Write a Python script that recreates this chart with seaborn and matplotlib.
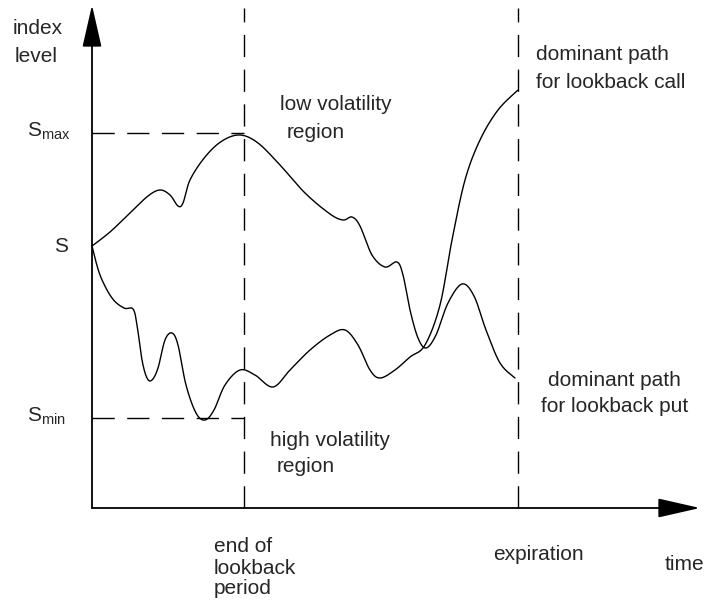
import numpy as np
import pandas as pd
import seaborn as sns
import matplotlib
matplotlib.use("Agg")
import matplotlib.pyplot as plt

# 기준점 (원점 = 시간축과 지수축이 만나는 곳)
origin_x, origin_y = 92, 508

# 경로 데이터: 시간, 지수 수준
put_time = [0, 18, 38, 56, 68, 78, 86, 91, 98, 113, 130, 148, 166, 188, 213,
            238, 251, 260, 268, 280, 293, 305, 311, 318, 326, 334, 344, 356,
            370, 382, 394, 408, 423]
put_level = [262, 276, 295, 312, 318, 313, 302, 305, 328, 351, 367, 373, 365,
             343, 315, 294, 288, 291, 282, 253, 241, 246, 233, 198, 170, 160,
             173, 205, 224, 212, 178, 145, 130]

call_time = [0, 8, 20, 32, 41, 45, 50, 55, 60, 66, 73, 80, 86, 94, 104, 113,
             122, 133, 148, 163, 181, 198, 218, 238, 253, 266, 278, 288, 303,
             318, 333, 348, 360, 373, 388, 406, 426]
call_level = [262, 233, 210, 200, 199, 183, 148, 130, 128, 140, 168, 175, 163,
              123, 95, 88, 98, 123, 138, 133, 121, 138, 158, 173, 178, 163, 138,
              130, 138, 151, 163, 203, 268, 328, 368, 398, 418]

# 기준선
s_level = 262
s_max = 375
s_min = 90
lookback_end = 152
expiration = 426


def smooth(xs, ys, n=20):
    # Catmull-Rom 곡선으로 매끄럽게
    p = np.column_stack([xs, ys]).astype(float)
    p = np.vstack([p[0], p, p[-1]])
    out = []
    for i in range(1, len(p) - 2):
        p0, p1, p2, p3 = p[i - 1], p[i], p[i + 1], p[i + 2]
        t = np.linspace(0, 1, n, endpoint=False)[:, None]
        out.append(0.5 * ((2 * p1) + (-p0 + p2) * t
                          + (2 * p0 - 5 * p1 + 4 * p2 - p3) * t ** 2
                          + (-p0 + 3 * p1 - 3 * p2 + p3) * t ** 3))
    out.append(p[-2][None, :])
    out = np.vstack(out)
    return out[:, 0], out[:, 1]


def main():
    sns.set_theme(style="white")
    plt.rcParams["font.family"] = ["Liberation Sans", "DejaVu Sans"]
    plt.rcParams["mathtext.fontset"] = "custom"
    plt.rcParams["mathtext.rm"] = "Liberation Sans"
    plt.rcParams["mathtext.default"] = "regular"

    fig = plt.figure(figsize=(7.18, 6.01), dpi=100)
    ax = fig.add_axes([0, 0, 1, 1])
    ax.set_xlim(-origin_x, 718 - origin_x)
    ax.set_ylim(origin_y - 601, origin_y)
    ax.axis("off")

    frames = []
    for name, tx, lv in [("put", put_time, put_level), ("call", call_time, call_level)]:
        sx, sy = smooth(tx, lv)
        frames.append(pd.DataFrame({"time": sx, "level": sy, "path": name}))
    df = pd.concat(frames, ignore_index=True)
    sns.lineplot(data=df, x="time", y="level", units="path", estimator=None,
                 sort=False, color="black", linewidth=1.0, ax=ax)

    # 점선
    dash = dict(color="black", linewidth=1.0, dashes=(16, 9))
    ax.plot([0, lookback_end], [s_max, s_max], **dash)
    ax.plot([0, lookback_end], [s_min, s_min], **dash)
    ax.plot([lookback_end, lookback_end], [0, 500], **dash)
    ax.plot([expiration, expiration], [0, 500], **dash)

    # 축 화살표
    arrow = dict(arrowstyle="-|>,head_length=2.2,head_width=0.5", color="black",
                 linewidth=1.3, shrinkA=0, shrinkB=0)
    ax.annotate("", xy=(0, 503), xytext=(0, 0), arrowprops=arrow)
    ax.annotate("", xy=(608, 0), xytext=(0, 0), arrowprops=arrow)

    fs = 15
    kw = dict(fontsize=fs, ha="left", va="center")
    ax.text(-79, 479, "index", **kw)
    ax.text(-77, 451, "level", **kw)
    ax.text(-65, s_max + 2, r"S$_{max}$", **kw)
    ax.text(-38, s_level, "S", **kw)
    ax.text(-65, s_min + 2, r"S$_{min}$", **kw)

    ax.text(188, 403, "low volatility", **kw)
    ax.text(195, 375, "region", **kw)
    ax.text(178, 68, "high volatility", **kw)
    ax.text(185, 42, "region", **kw)

    ax.text(444, 453, "dominant path", **kw)
    ax.text(444, 425, "for lookback call", **kw)
    ax.text(456, 128, "dominant path", **kw)
    ax.text(449, 102, "for lookback put", **kw)

    ax.text(122, -38, "end of", **kw)
    ax.text(122, -60, "lookback", **kw)
    ax.text(122, -81, "period", **kw)
    ax.text(401, -47, "expiration", **kw)
    ax.text(573, -56, "time", **kw)

    fig.savefig("out.png", dpi=100)


if __name__ == "__main__":
    main()
